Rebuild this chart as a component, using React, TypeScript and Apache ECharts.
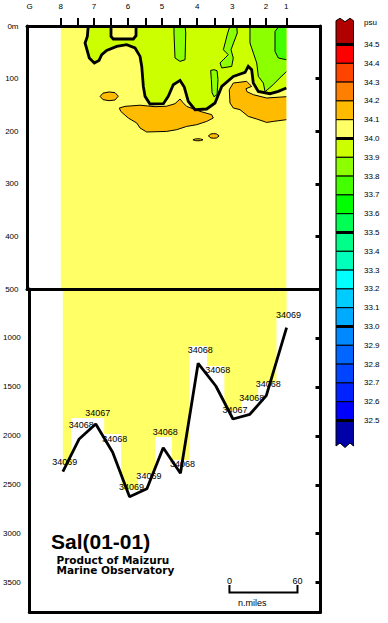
import React, { useEffect, useRef } from 'react';
import * as echarts from 'echarts';

const FONT = '"Liberation Sans", Arial, sans-serif';
const FONT_WIDE = '"DejaVu Sans", "Liberation Sans", sans-serif';
const X_MAX = 256.8; // n.miles across the frame

// Stations and mid-stations along the section (n.miles from the left frame)
const samplePos = [29.6, 44.0, 58.6, 73.5, 88.4, 103.7, 118.1, 133.3, 148.9, 164.5, 179.6, 194.5, 209.0, 226.9];
const stationNames = ['8', '7', '6', '5', '4', '3', '2', '1'];
const stationIdx = [0, 2, 4, 6, 8, 10, 12, 13];
const gLabelPos = 2.2;

// Lower section (m)
const seaFloorDepth = [2366, 2032, 1879, 2168, 2622, 2540, 2121, 2383, 1259, 1491, 1828, 1780, 1590, 895];
const bottomSampleDepth = [2298, 1818, 1818, 1981, 2553, 2390, 2012, 2247, 1082, 1287, 1736, 1634, 1460, 796];
const bottomLabelDepth = [2267, 1889, 1767, 2032, 2519, 2407, 1964, 2288, 1123, 1327, 1740, 1610, 1470, 766];
const bottomSalinity = ['34069', '34068', '34067', '34068', '34069', '34069', '34068', '34068', '34068', '34068', '34067', '34068', '34068', '34069'];

// Upper section contours [n.miles, depth m]
const c340Main = [[53.6, 0], [52.8, 19.8], [50.8, 32.3], [54.5, 60.8], [58.9, 70.3], [63.0, 65.4], [65.4, 54.6], [69.7, 46.4], [78.5, 38.8], [87.2, 35.5], [94.5, 41.8], [98.9, 57.8], [100.4, 76.8], [101.8, 114.8], [103.3, 133.8], [107.6, 148.3], [119.3, 147.7], [123.6, 133.8], [128.0, 111.6], [133.9, 103.4], [137.6, 116.0], [141.1, 143.3], [147.0, 159.1], [157.2, 157.8], [164.5, 146.4], [170.4, 114.8], [180.5, 95.8], [190.8, 88.2], [193.6, 76.8], [196.6, 83.1], [198.0, 108.4], [202.4, 124.3], [212.6, 128.7], [219.9, 124.3], [226.9, 117.9]];
const c340Notch = [[73.5, 0], [73.5, 19.8], [75.5, 24.7], [93.0, 24.7], [95.4, 18.4], [95.4, 0]];
const c339a = [[128.6, 0], [128.6, 13.3], [129.5, 60.8], [133.9, 67.3], [138.3, 64.1], [138.9, 13.3], [138.3, 0]];
const c339b = [[177.6, 0], [175.6, 13.3], [171.8, 45.1], [176.1, 54.6], [168.9, 70.3], [170.4, 79.8], [179.1, 76.8], [180.5, 60.8], [178.5, 45.1], [184.0, 13.3], [183.5, 0]];
const c339c = [[160.7, 84.4], [161.3, 102.1], [161.9, 126.8], [163.6, 134.4], [166.3, 130.6], [167.1, 102.1], [166.3, 85.0], [163.6, 83.1]];
const c339d = [[195.1, 0], [195.1, 32.3], [201.0, 70.3], [202.4, 95.8], [206.8, 108.4], [208.3, 124.9], [214.4, 113.5], [221.4, 98.3], [226.9, 86.9]];
const c338a = [[220.8, 0], [217.0, 10.3], [217.0, 48.3], [219.9, 60.8], [226.9, 64.1]];
const c341a = [[64.0, 133.8], [66.5, 127.7], [71.8, 125.4], [77.0, 126.7], [79.9, 133.4], [77.0, 140.7], [71.8, 142.0], [66.5, 140.0]];
const c341b = [[80.8, 155.9], [85.8, 152.8], [98.9, 150.6], [112.0, 153.4], [122.2, 152.5], [129.5, 147.7], [133.9, 138.8], [136.5, 145.8], [139.7, 152.8], [151.4, 162.3], [161.6, 168.6], [163.0, 174.9], [157.2, 181.4], [148.5, 187.6], [139.7, 190.9], [131.0, 197.1], [122.2, 200.4], [104.7, 201.5], [98.9, 193.9], [96.0, 184.4], [88.6, 174.9], [82.0, 162.3]];
const c341c = [[226.9, 134.4], [209.7, 136.9], [198.0, 130.6], [192.5, 124.9], [191.6, 119.2], [196.6, 114.8], [192.2, 105.3], [180.5, 108.4], [177.0, 121.1], [177.6, 146.4], [180.5, 155.9], [186.4, 159.1], [193.6, 171.9], [201.0, 176.8], [209.7, 183.3], [215.5, 181.4], [226.9, 178.1]];
const c341d = [[158.7, 209], [160.9, 205.2], [163.4, 204.6], [165.9, 205.2], [168.1, 209], [165.9, 212.8], [163.4, 213.4], [160.9, 212.8]];
const c341e = [[145.2, 216.3], [147.4, 214.7], [149.6, 214.4], [151.8, 214.7], [154.0, 216.3], [151.8, 217.9], [149.6, 218.2], [147.4, 217.9]];

// Scale bar
const scaleBarStart = 176.5;
const scaleBarLength = 60;

// Colour legend
const legendLevels = [34.5, 34.4, 34.3, 34.2, 34.1, 34.0, 33.9, 33.8, 33.7, 33.6, 33.5, 33.4, 33.3, 33.2, 33.1, 33.0, 32.9, 32.8, 32.7, 32.6, 32.5];
const legendColors = ['#ff0000', '#ff4400', '#ff8000', '#ffbb00', '#ffff66', '#ccff00', '#8cff00', '#44ff00', '#00ff00', '#00ff55', '#00ff88', '#00ffbb', '#00ffff', '#00ccff', '#00aaff', '#0088ff', '#0066ff', '#0044ff', '#0022ff', '#0000ff'];
const legendTopColor = '#b00000';
const legendBottomColor = '#0000a8';

const COL_340 = '#ffff66';
const COL_339 = '#ccff00';
const COL_338 = '#8cff00';
const COL_337 = '#44ff00';
const COL_341 = '#ffbb00';

const renderUpper = (_p: any, api: any) => {
  const P = (arr: number[][]) => arr.map((p) => api.coord(p));
  const fillPoly = (arr: number[][], fill: string) => ({ type: 'polygon', shape: { points: P(arr) }, style: { fill } });
  const line = (arr: number[][], w: number) => ({ type: 'polyline', shape: { points: P(arr) }, style: { stroke: '#000', lineWidth: w, fill: 'none' } });
  const ring = (arr: number[][], w: number) => ({ type: 'polygon', shape: { points: P(arr) }, style: { stroke: '#000', lineWidth: w, fill: 'none' } });
  const x0 = samplePos[0];
  const x1 = samplePos[samplePos.length - 1];
  const a = api.coord([x0, 0]);
  const b = api.coord([x1, 500]);
  const children: any[] = [
    { type: 'rect', shape: { x: a[0], y: a[1], width: b[0] - a[0], height: b[1] - a[1] }, style: { fill: COL_340 } },
    fillPoly([...c340Main, [x1, 0]], COL_339),
    fillPoly(c340Notch, COL_340),
    fillPoly(c339a, COL_338),
    fillPoly(c339b, COL_338),
    fillPoly(c339c, COL_338),
    fillPoly([...c339d, [x1, 0]], COL_338),
    fillPoly([...c338a, [x1, 0]], COL_337),
    fillPoly(c341a, COL_341),
    fillPoly(c341b, COL_341),
    fillPoly(c341c, COL_341),
    fillPoly(c341d, COL_341),
    fillPoly(c341e, COL_341),
    line(c339a, 1),
    line(c339b, 1),
    ring(c339c, 1),
    line(c339d, 1),
    line(c338a, 1),
    ring(c341a, 1),
    ring(c341b, 1),
    line(c341c, 1),
    ring(c341d, 1),
    ring(c341e, 1),
    line(c340Main, 2.8),
    line(c340Notch, 2.8),
  ];
  return { type: 'group', children };
};

const lowerFillPoints = () => {
  const n = samplePos.length;
  const edges = [samplePos[0]];
  for (let i = 0; i < n - 1; i++) edges.push((samplePos[i] + samplePos[i + 1]) / 2);
  edges.push(samplePos[n - 1]);
  const out: number[][] = [[samplePos[0], 500], [samplePos[n - 1], 500]];
  for (let i = n - 1; i >= 0; i--) {
    out.push([edges[i + 1], bottomSampleDepth[i]]);
    out.push([edges[i], bottomSampleDepth[i]]);
  }
  return out;
};

const renderLowerFill = (_p: any, api: any) => ({
  type: 'polygon',
  shape: { points: lowerFillPoints().map((p) => api.coord(p)) },
  style: { fill: COL_340 },
});

const renderBottomLabel = (_p: any, api: any) => {
  const c = api.coord([api.value(0), api.value(1)]);
  return {
    type: 'text',
    x: c[0] + 2,
    y: c[1],
    style: { text: bottomSalinity[api.value(2)], font: `9px ${FONT}`, fill: '#000', textAlign: 'center', textVerticalAlign: 'middle' },
  };
};

const renderScaleBar = (_p: any, api: any) => {
  const x0 = api.value(0);
  const len = api.value(1);
  const p1 = api.coord([x0, 3524]);
  const p2 = api.coord([x0, 3602]);
  const p3 = api.coord([x0 + len, 3602]);
  const p4 = api.coord([x0 + len, 3524]);
  const l0 = api.coord([x0, 3479]);
  const l1 = api.coord([x0 + len, 3479]);
  const u = api.coord([x0 + 7.6, 3704]);
  const txt = (p: number[], text: string, align: string) => ({
    type: 'text', x: p[0], y: p[1],
    style: { text, font: `9px ${FONT}`, fill: '#000', textAlign: align, textVerticalAlign: 'middle' },
  });
  return {
    type: 'group',
    children: [
      { type: 'polyline', shape: { points: [p1, p2, p3, p4] }, style: { stroke: '#000', lineWidth: 2, fill: 'none' } },
      txt(l0, '0', 'center'),
      txt(l1, String(len), 'center'),
      txt(u, 'n.miles', 'left'),
    ],
  };
};

const buildLegend = () => {
  const LX = 336;
  const LW = 17.5;
  const LY0 = 44.5;
  const STEP = 18.8;
  const els: any[] = [];
  const yEnd = LY0 + (legendLevels.length - 1) * STEP;
  els.push({ type: 'polygon', shape: { points: [[LX, LY0], [LX, 20.7], [LX + 4, 18.3], [LX + 9, 21.7], [LX + 14, 18.3], [LX + LW, 20.7], [LX + LW, LY0]] }, style: { fill: legendTopColor, stroke: '#000', lineWidth: 1 } });
  els.push({ type: 'polygon', shape: { points: [[LX, yEnd], [LX, 446], [LX + 4, 443], [LX + 9, 447.5], [LX + 14, 443], [LX + LW, 446], [LX + LW, yEnd]] }, style: { fill: legendBottomColor, stroke: '#000', lineWidth: 1 } });
  legendColors.forEach((c, i) => {
    els.push({ type: 'rect', shape: { x: LX, y: LY0 + i * STEP, width: LW, height: STEP }, style: { fill: c, stroke: '#000', lineWidth: 1 } });
  });
  legendLevels.forEach((lv, k) => {
    const y = LY0 + k * STEP;
    if (k % 5 === 0) {
      els.push({ type: 'line', shape: { x1: LX, y1: y, x2: LX + LW, y2: y }, style: { stroke: '#000', lineWidth: 3 } });
    }
    els.push({ type: 'text', x: 364, y, style: { text: lv.toFixed(1), font: `8px ${FONT}`, fill: '#000', textAlign: 'left', textVerticalAlign: 'middle' } });
  });
  els.push({ type: 'text', x: 364, y: 22, style: { text: 'psu', font: `8px ${FONT}`, fill: '#000', textAlign: 'left', textVerticalAlign: 'middle' } });
  return els;
};

const frameLine = { show: true, onZero: false, lineStyle: { color: '#000', width: 3 } };

const option: any = {
  animation: false,
  backgroundColor: '#fff',
  textStyle: { fontFamily: FONT },
  grid: [
    { left: 27, top: 26, width: 293.5, height: 263 },
    { left: 27, top: 289, width: 293.5, height: 323 },
  ],
  xAxis: [
    { gridIndex: 0, type: 'value', min: 0, max: X_MAX, position: 'top', axisLine: frameLine, axisTick: { show: false }, axisLabel: { show: false }, splitLine: { show: false }, z: 10 },
    { gridIndex: 0, type: 'value', min: 0, max: X_MAX, position: 'bottom', axisLine: frameLine, axisTick: { show: false }, axisLabel: { show: false }, splitLine: { show: false }, z: 10 },
    { gridIndex: 1, type: 'value', min: 0, max: X_MAX, position: 'bottom', axisLine: frameLine, axisTick: { show: false }, axisLabel: { show: false }, splitLine: { show: false }, z: 10 },
    {
      gridIndex: 0, type: 'value', min: 0, max: X_MAX, position: 'top', offset: 7,
      axisLine: { show: false },
      axisTick: { show: true, length: 8, lineStyle: { color: '#000', width: 2 }, customValues: samplePos },
      axisLabel: {
        show: true, margin: 9, fontSize: 8, color: '#000', fontFamily: FONT,
        customValues: [gLabelPos, ...stationIdx.map((i) => samplePos[i])],
        formatter: (v: number) => {
          if (v === gLabelPos) return 'G';
          const k = stationIdx.findIndex((i) => samplePos[i] === v);
          return k >= 0 ? stationNames[k] : '';
        },
      },
      splitLine: { show: false },
    },
  ],
  yAxis: [
    {
      gridIndex: 0, type: 'value', inverse: true, min: 0, max: 500, interval: 100, position: 'left',
      axisLine: frameLine, axisTick: { show: false },
      axisLabel: { fontSize: 8, margin: 8.5, color: '#000', fontFamily: FONT, formatter: (v: number) => (v === 0 ? '0m' : String(v)) },
      splitLine: { show: false }, z: 10,
    },
    {
      gridIndex: 0, type: 'value', inverse: true, min: 0, max: 500, interval: 100, position: 'right',
      axisLine: frameLine, axisTick: { show: true, inside: true, length: 5, lineStyle: { color: '#000', width: 3 } },
      axisLabel: { show: false }, splitLine: { show: false }, z: 10,
    },
    {
      gridIndex: 1, type: 'value', inverse: true, min: 500, max: 3800, interval: 500, position: 'left',
      axisLine: frameLine, axisTick: { show: false },
      axisLabel: { fontSize: 8, margin: 8.5, color: '#000', fontFamily: FONT, formatter: (v: number) => (v === 500 || v === 3800 ? '' : String(v)) },
      splitLine: { show: false }, z: 10,
    },
    {
      gridIndex: 1, type: 'value', inverse: true, min: 500, max: 3800, interval: 500, position: 'right',
      axisLine: frameLine, axisTick: { show: true, inside: true, length: 5, lineStyle: { color: '#000', width: 3 } },
      axisLabel: { show: false }, splitLine: { show: false }, z: 10,
    },
  ],
  series: [
    { type: 'custom', xAxisIndex: 0, yAxisIndex: 0, renderItem: renderUpper, data: [[samplePos[0], 0]], silent: true, z: 2 },
    { type: 'custom', xAxisIndex: 2, yAxisIndex: 2, renderItem: renderLowerFill, data: [[samplePos[0], 500]], silent: true, z: 2 },
    {
      type: 'custom', xAxisIndex: 2, yAxisIndex: 2, renderItem: renderBottomLabel, silent: true, z: 3,
      data: samplePos.map((x, i) => [x, bottomLabelDepth[i], i]),
    },
    {
      type: 'line', xAxisIndex: 2, yAxisIndex: 2, symbol: 'none', silent: true, z: 4, clip: false,
      lineStyle: { color: '#000', width: 2.8 },
      data: samplePos.map((x, i) => [x, seaFloorDepth[i]]),
    },
    { type: 'custom', xAxisIndex: 2, yAxisIndex: 2, renderItem: renderScaleBar, data: [[scaleBarStart, scaleBarLength]], silent: true, z: 3 },
  ],
  graphic: [
    { type: 'text', x: 51, y: 541, style: { text: 'Sal(01-01)', font: `bold 21px ${FONT}`, fill: '#000', textAlign: 'left', textVerticalAlign: 'middle' } },
    { type: 'text', x: 56.5, y: 559.5, style: { text: 'Product of Maizuru', font: `bold 10.5px ${FONT_WIDE}`, fill: '#000', textAlign: 'left', textVerticalAlign: 'middle' } },
    { type: 'text', x: 56.5, y: 570, style: { text: 'Marine Observatory', font: `bold 10.5px ${FONT_WIDE}`, fill: '#000', textAlign: 'left', textVerticalAlign: 'middle' } },
    ...buildLegend(),
  ],
};

export default function App() {
  const ref = useRef<HTMLDivElement>(null);
  useEffect(() => {
    document.body.style.margin = '0';
    const chart = echarts.init(ref.current!, null, { renderer: 'svg' });
    chart.setOption(option);
    return () => chart.dispose();
  }, []);
  return <div ref={ref} style={{ width: 388, height: 623 }} />;
}
